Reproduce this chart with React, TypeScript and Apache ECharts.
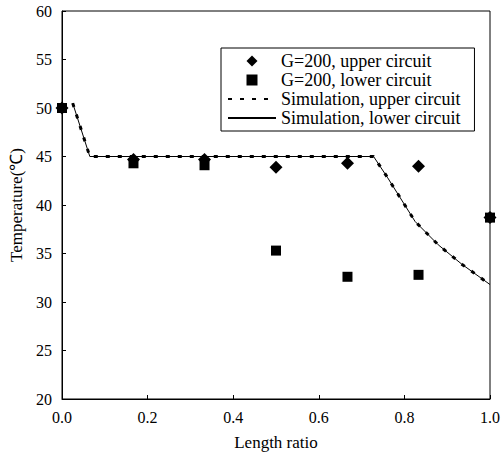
import React, { useEffect, useRef } from "react";
import * as echarts from "echarts";

const xExp = [0, 0.167, 0.333, 0.5, 0.667, 0.833, 1.0];
const upperExp = [50, 44.7, 44.7, 43.9, 44.3, 44.0, 38.7];
const lowerExp = [50, 44.3, 44.1, 35.3, 32.6, 32.8, 38.7];

const simX = [0.025, 0.065, 0.728, 0.761, 0.798, 0.825, 0.879, 0.934, 1.0];
const simUpper = [50.5, 45.0, 45.0, 42.8, 40.2, 38.3, 35.9, 33.9, 31.8];
const simLower = [50.5, 45.0, 45.0, 42.8, 40.2, 38.3, 35.9, 33.9, 31.8];

const names = [
  "G=200, upper circuit",
  "G=200, lower circuit",
  "Simulation, upper circuit",
  "Simulation, lower circuit",
];

const FONT = "Liberation Serif";
const DIAMOND = "path://M0,-1L1,0L0,1L-1,0Z";
const SQUARE = "path://M0,0L1,0L1,1L0,1Z";

export default function App() {
  const ref = useRef<HTMLDivElement>(null);
  useEffect(() => {
    if (!ref.current) return;
    const chart = echarts.init(ref.current, null, { renderer: "svg" });
    const pair = (xs: number[], ys: number[]) => xs.map((x, i) => [x, ys[i]]);
    chart.setOption({
      animation: false,
      backgroundColor: "#fff",
      textStyle: { fontFamily: FONT, color: "#000" },
      grid: {
        left: 62,
        right: 11,
        top: 11,
        bottom: 71,
        show: true,
        borderColor: "#000",
        borderWidth: 1,
      },
      legend: {
        orient: "vertical",
        left: 221,
        top: 48,
        borderColor: "#000",
        borderWidth: 1,
        padding: [4, 14, 4, 6],
        itemWidth: 48,
        itemHeight: 11,
        itemGap: 1,
        symbolKeepAspect: true,
        textStyle: { fontFamily: FONT, fontSize: 18, color: "#000" },
        data: [
          { name: names[0], icon: DIAMOND },
          { name: names[1], icon: SQUARE },
          { name: names[2] },
          { name: names[3] },
        ],
      },
      xAxis: {
        type: "value",
        min: 0,
        max: 1,
        interval: 0.2,
        name: "Length ratio",
        nameLocation: "middle",
        nameGap: 35,
        nameTextStyle: { fontFamily: FONT, fontSize: 17, color: "#000" },
        axisLine: { show: true, lineStyle: { color: "#000", width: 1 } },
        axisTick: { show: true, inside: true, length: 4, lineStyle: { color: "#000" } },
        axisLabel: {
          fontFamily: FONT,
          fontSize: 16,
          color: "#000",
          margin: 10,
          formatter: (v: number) => v.toFixed(1),
        },
        splitLine: { show: false },
      },
      yAxis: {
        type: "value",
        min: 20,
        max: 60,
        interval: 5,
        name: "Temperature(℃)",
        nameLocation: "middle",
        nameGap: 31,
        nameTextStyle: { fontFamily: FONT, fontSize: 17, color: "#000" },
        axisLine: { show: true, lineStyle: { color: "#000", width: 1 } },
        axisTick: { show: true, inside: true, length: 4, lineStyle: { color: "#000" } },
        axisLabel: { fontFamily: FONT, fontSize: 16, color: "#000", margin: 10 },
        splitLine: { show: false },
      },
      series: [
        {
          name: names[0],
          type: "scatter",
          symbol: "diamond",
          symbolSize: 13,
          itemStyle: { color: "#000", opacity: 1 },
          data: pair(xExp, upperExp),
          z: 5,
        },
        {
          name: names[1],
          type: "scatter",
          symbol: "rect",
          symbolSize: 10,
          itemStyle: { color: "#000", opacity: 1 },
          data: pair(xExp, lowerExp),
          z: 5,
        },
        {
          name: names[2],
          type: "line",
          symbol: "none",
          lineStyle: { color: "#000", width: 3, type: [4, 8] },
          itemStyle: { color: "rgba(0,0,0,0)", borderWidth: 0 },
          data: pair(simX, simUpper),
          z: 3,
        },
        {
          name: names[3],
          type: "line",
          symbol: "none",
          lineStyle: { color: "#000", width: 1, type: "solid" },
          itemStyle: { color: "rgba(0,0,0,0)", borderWidth: 0 },
          data: pair(simX, simLower),
          z: 2,
        },
      ],
    });
    return () => chart.dispose();
  }, []);
  return (
    <div
      ref={ref}
      style={{ position: "fixed", left: 0, top: 0, width: 503, height: 470 }}
    />
  );
}
